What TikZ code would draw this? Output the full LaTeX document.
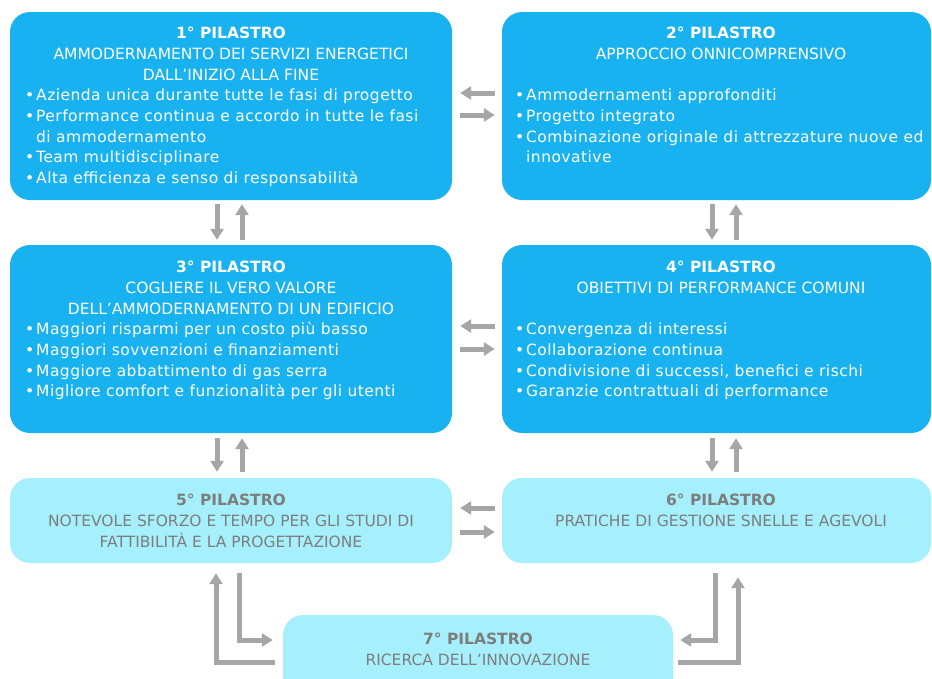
\documentclass[tikz,border=0pt]{standalone}
\usepackage{fontspec}
\setmainfont{DejaVu Sans}
\usetikzlibrary{arrows.meta,calc}

\definecolor{boxdark}{RGB}{24,178,240}
\definecolor{boxlight}{RGB}{165,240,252}
\definecolor{arrgray}{RGB}{166,166,166}
\definecolor{txtgray}{RGB}{125,125,125}

\newcommand\bitem[1]{\makebox[11pt][l]{\textbullet}#1}
\newcommand\bcont[1]{\hspace*{11pt}#1}

\tikzset{
  pillar/.style={rounded corners=20pt, inner sep=0pt, draw=none},
  darkbox/.style={pillar, fill=boxdark},
  lightbox/.style={pillar, fill=boxlight},
  wide/.style={minimum width=442pt},
  wider/.style={minimum width=429pt},
  txt/.style={inner sep=0pt, font=\fontsize{15.5}{20.7}\selectfont},
  title/.style={txt, anchor=north, align=center},
  bullets/.style={inner sep=0pt, anchor=north west, align=left,
    font=\fontsize{15.5}{20.7}\selectfont\addfontfeatures{LetterSpace=3}},
  ontop/.style={text=white},
  onlight/.style={text=txtgray},
  arr/.style={draw=arrgray, line width=5pt,
    -{Triangle[width=13pt,length=11pt]}},
}

\begin{document}
\begin{tikzpicture}[x=1pt,y=-1pt]
  \useasboundingbox (0,0) rectangle (932,678);
  \clip (0,0) rectangle (932,678);

  % pillar boxes
  \node[darkbox, wide, minimum height=188pt] (p1) at (231,106) {};
  \node[darkbox, wider, minimum height=188pt] (p2) at (716.5,106) {};
  \node[darkbox, wide, minimum height=188pt] (p3) at (231,339) {};
  \node[darkbox, wider, minimum height=188pt] (p4) at (716.5,339) {};
  \node[lightbox, wide, minimum height=85pt] (p5) at (231,520.5) {};
  \node[lightbox, wider, minimum height=85pt] (p6) at (716.5,520.5) {};
  \node[lightbox, minimum width=390pt, minimum height=85pt] (p7) at (478,657.5) {};

  % pillar 1
  \node[title, ontop] (t1) at (231,24)
    {\strut\textbf{1° PILASTRO}\\AMMODERNAMENTO DEI SERVIZI ENERGETICI\\DALL’INIZIO ALLA FINE};
  \node[bullets, ontop] (b1) at (25,86.1)
    {\strut\bitem{Azienda unica durante tutte le fasi di progetto}\\
     \bitem{Performance continua e accordo in tutte le fasi}\\
     \bcont{di ammodernamento}\\
     \bitem{Team multidisciplinare}\\
     \bitem{Alta efficienza e senso di responsabilità}};

  % pillar 2
  \node[title, ontop] (t2) at (721,24)
    {\strut\textbf{2° PILASTRO}\\APPROCCIO ONNICOMPRENSIVO};
  \node[bullets, ontop] (b2) at (515,86.1)
    {\strut\bitem{Ammodernamenti approfonditi}\\
     \bitem{Progetto integrato}\\
     \bitem{Combinazione originale di attrezzature nuove ed}\\
     \bcont{innovative}};

  % pillar 3
  \node[title, ontop] (t3) at (231,258)
    {\strut\textbf{3° PILASTRO}\\COGLIERE IL VERO VALORE\\DELL’AMMODERNAMENTO DI UN EDIFICIO};
  \node[bullets, ontop] (b3) at (25,320.1)
    {\strut\bitem{Maggiori risparmi per un costo più basso}\\
     \bitem{Maggiori sovvenzioni e finanziamenti}\\
     \bitem{Maggiore abbattimento di gas serra}\\
     \bitem{Migliore comfort e funzionalità per gli utenti}};

  % pillar 4
  \node[title, ontop] (t4) at (721,258)
    {\strut\textbf{4° PILASTRO}\\OBIETTIVI DI PERFORMANCE COMUNI};
  \node[bullets, ontop] (b4) at (515,320.1)
    {\strut\bitem{Convergenza di interessi}\\
     \bitem{Collaborazione continua}\\
     \bitem{Condivisione di successi, benefici e rischi}\\
     \bitem{Garanzie contrattuali di performance}};

  % pillars 5, 6, 7
  \node[title, onlight] (t5) at (231,491)
    {\strut\textbf{5° PILASTRO}\\NOTEVOLE SFORZO E TEMPO PER GLI STUDI DI\\FATTIBILITÀ E LA PROGETTAZIONE};
  \node[title, onlight] (t6) at (721,491)
    {\strut\textbf{6° PILASTRO}\\PRATICHE DI GESTIONE SNELLE E AGEVOLI};
  \node[title, onlight] (t7) at (478,630)
    {\strut\textbf{7° PILASTRO}\\RICERCA DELL’INNOVAZIONE};

  % horizontal links
  \draw[arr, shorten <=7pt, shorten >=8pt] ($(p2.west)+(0,-13)$) -- ($(p1.east)+(0,-13)$);
  \draw[arr, shorten <=8pt, shorten >=7pt] ($(p1.east)+(0,9)$) -- ($(p2.west)+(0,9)$);
  \draw[arr, shorten <=7pt, shorten >=8pt] ($(p4.west)+(0,-13)$) -- ($(p3.east)+(0,-13)$);
  \draw[arr, shorten <=8pt, shorten >=7pt] ($(p3.east)+(0,10)$) -- ($(p4.west)+(0,10)$);
  \draw[arr, shorten <=7pt, shorten >=8pt] ($(p6.west)+(0,-12.5)$) -- ($(p5.east)+(0,-12.5)$);
  \draw[arr, shorten <=8pt, shorten >=7pt] ($(p5.east)+(0,11.5)$) -- ($(p6.west)+(0,11.5)$);

  % vertical links
  \draw[arr, shorten <=4pt, shorten >=5pt] ($(p1.south)+(-14,0)$) -- ($(p3.north)+(-14,0)$);
  \draw[arr, shorten <=5pt, shorten >=4pt] ($(p3.north)+(11,0)$) -- ($(p1.south)+(11,0)$);
  \draw[arr, shorten <=4pt, shorten >=5pt] ($(p2.south)+(-4.5,0)$) -- ($(p4.north)+(-4.5,0)$);
  \draw[arr, shorten <=5pt, shorten >=4pt] ($(p4.north)+(19.5,0)$) -- ($(p2.south)+(19.5,0)$);
  \draw[arr, shorten <=5pt, shorten >=6pt] ($(p3.south)+(-14,0)$) -- ($(p5.north)+(-14,0)$);
  \draw[arr, shorten <=6pt, shorten >=5pt] ($(p5.north)+(11,0)$) -- ($(p3.south)+(11,0)$);
  \draw[arr, shorten <=5pt, shorten >=6pt] ($(p4.south)+(-4.5,0)$) -- ($(p6.north)+(-4.5,0)$);
  \draw[arr, shorten <=6pt, shorten >=5pt] ($(p6.north)+(19.5,0)$) -- ($(p4.south)+(19.5,0)$);

  % elbow links to and from pillar 7
  \draw[arr] ($(p7.west)+(-8,4.5)$) -| ($(p5.south)+(-15,10)$);
  \draw[arr] ($(p5.south)+(8,10)$) |- ($(p7.west)+(-10,-17.5)$);
  \draw[arr] ($(p6.south)+(-1.5,10)$) |- ($(p7.east)+(7,-17.5)$);
  \draw[arr] ($(p7.east)+(5,4.5)$) -| ($(p6.south)+(21.5,14)$);
\end{tikzpicture}
\end{document}
